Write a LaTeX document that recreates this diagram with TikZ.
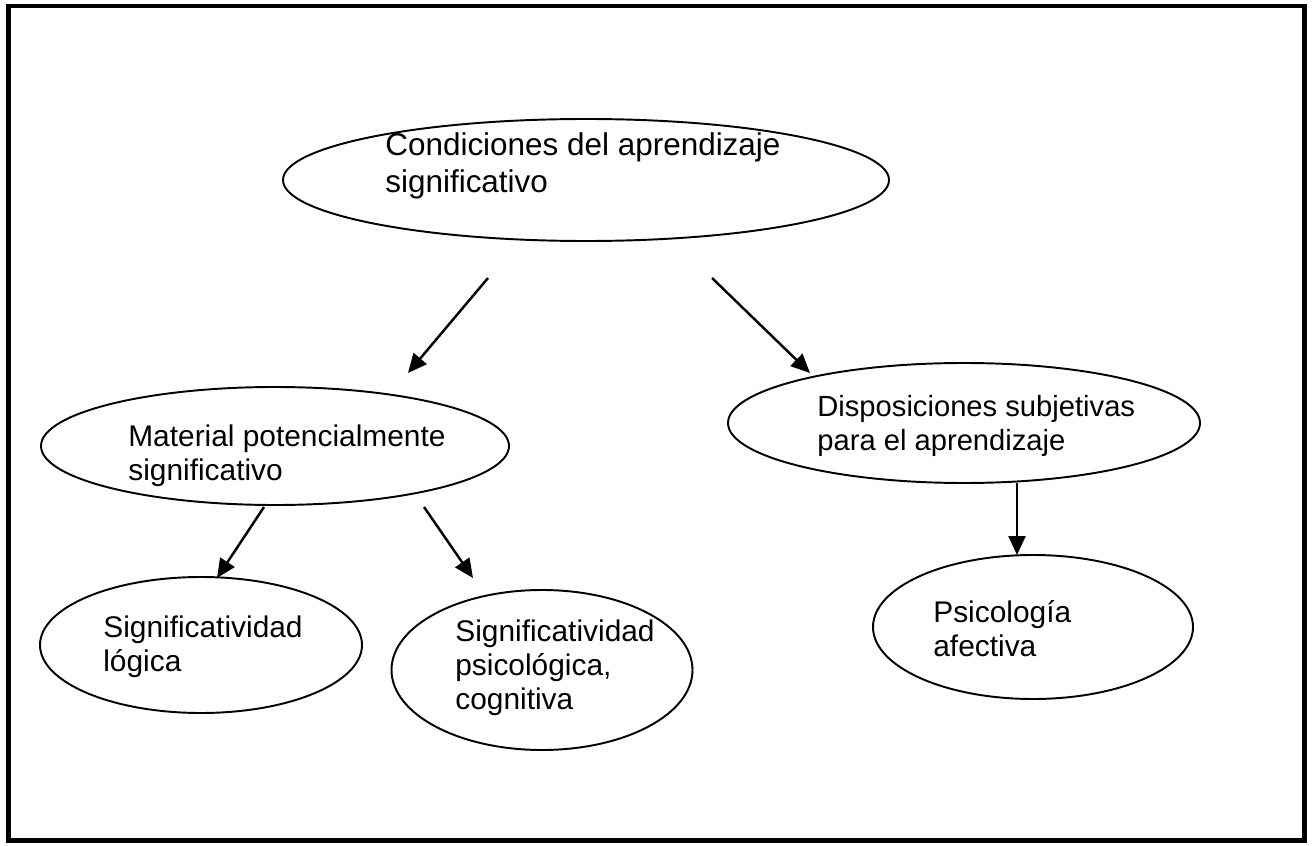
\documentclass[tikz,border=0pt]{standalone}
\usepackage{fontspec}
\setmainfont{Liberation Sans}
\usetikzlibrary{shapes.geometric,arrows.meta}

\begin{document}
\begin{tikzpicture}[
    oval/.style={draw, ellipse, line width=1.1pt, inner sep=0pt},
    txt/.style={anchor=west, align=left, inner sep=0pt, font=\fontsize{17}{19.3}\selectfont},
    pfeil/.style={line width=1.4pt, -{Triangle[length=0.38cm,width=0.34cm]}}
]
            \useasboundingbox (0, 0) rectangle (26.26, -16.92);
            \draw [line width=2.8pt] (0.17, -0.12) rectangle (26.09, -16.81);

            \node [oval, minimum width=12.12cm, minimum height=2.44cm] (cond) at (11.72, -3.60) {};
            \node [oval, minimum width=9.36cm, minimum height=2.36cm] (mat) at (5.50, -8.92) {};
            \node [oval, minimum width=9.44cm, minimum height=2.40cm] (disp) at (19.28, -8.46) {};
            \node [oval, minimum width=6.44cm, minimum height=2.72cm] (log) at (4.02, -12.90) {};
            \node [oval, minimum width=6.02cm, minimum height=3.20cm] (psi) at (10.84, -13.40) {};
            \node [oval, minimum width=6.40cm, minimum height=2.88cm] (afe) at (20.66, -12.54) {};

            \node [txt, font=\fontsize{17.9}{21}\selectfont] (condt) at (7.70, -3.32) {Condiciones del aprendizaje\\significativo};
            \node [txt] (matt) at (2.56, -9.12) {Material potencialmente\\significativo};
            \node [txt, font=\fontsize{16.6}{19.3}\selectfont] (dispt) at (16.34, -8.51) {Disposiciones subjetivas\\para el aprendizaje};
            \node [txt] (logt) at (2.06, -12.94) {Significatividad\\lógica};
            \node [txt] (psit) at (9.10, -13.36) {Significatividad\\psicológica,\\cognitiva};
            \node [txt] (afet) at (18.66, -12.57) {Psicología\\afectiva};

            \coordinate (a1s) at (9.76, -5.56);
            \coordinate (a1e) at (8.16, -7.46);
            \coordinate (a2s) at (14.24, -5.56);
            \coordinate (a2e) at (16.20, -7.46);
            \coordinate (a3s) at (5.28, -10.14);
            \coordinate (a3e) at (4.34, -11.56);
            \coordinate (a4s) at (8.48, -10.14);
            \coordinate (a4e) at (9.46, -11.56);
            \coordinate (a5s) at (20.34, -9.66);
            \coordinate (a5e) at (20.34, -11.10);

            \draw [pfeil] (a1s) to (a1e);
            \draw [pfeil] (a2s) to (a2e);
            \draw [pfeil] (a3s) to (a3e);
            \draw [pfeil] (a4s) to (a4e);
            \draw [pfeil] (a5s) to (a5e);
\end{tikzpicture}
\end{document}
